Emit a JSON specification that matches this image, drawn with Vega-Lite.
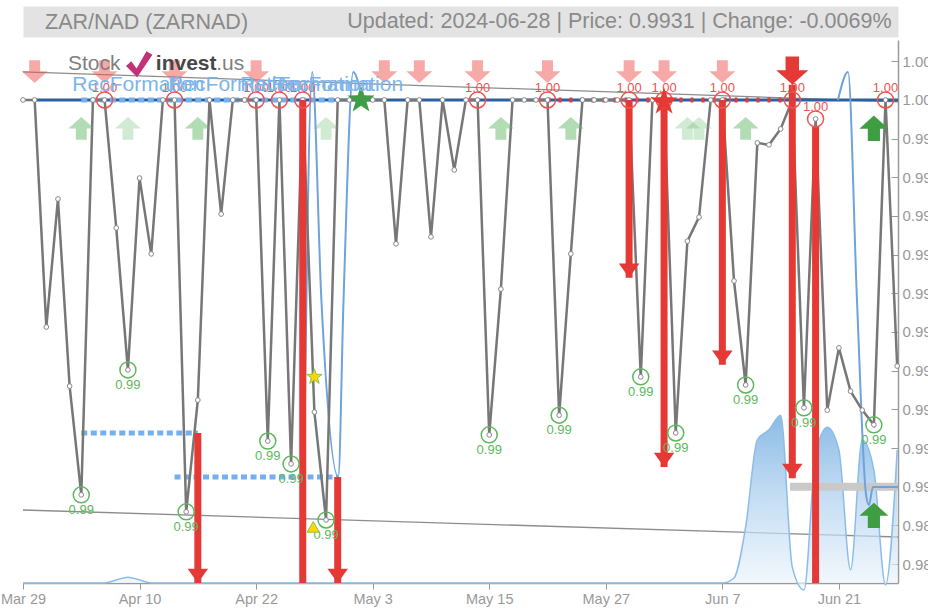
{
  "$schema": "https://vega.github.io/schema/vega-lite/v6.json",
  "background": "white",
  "autosize": {"type": "none"},
  "padding": {"left": 23, "top": 40, "right": 30, "bottom": 27},
  "width": 875,
  "height": 543,
  "config": {"font": "Liberation Sans", "view": {"stroke": null}, "axis": {"labelFont": "Liberation Sans", "titleFont": "Liberation Sans"}},
  "title": {"text": "ZAR/NAD (ZARNAD)", "anchor": "start", "frame": "group", "orient": "top", "baseline": "middle",
            "offset": -33.5, "dx": 22, "fontSize": 21.5, "fontWeight": "normal", "color": "#8a8a8a", "font": "Liberation Sans"},
  "datasets": {
    "price": [
      {"i":0,"v":1.0},{"i":1,"v":1.0},{"i":2,"v":0.99413},{"i":3,"v":0.99744},{"i":4,"v":0.99260},
      {"i":5,"v":0.98979},{"i":6,"v":1.0},{"i":7,"v":1.0},{"i":8,"v":0.99669},{"i":9,"v":0.99302},
      {"i":10,"v":0.99798},{"i":11,"v":0.99602},{"i":12,"v":1.0},{"i":13,"v":1.0},{"i":14,"v":0.98935},
      {"i":15,"v":0.99224},{"i":16,"v":1.0},{"i":17,"v":0.99705},{"i":18,"v":1.0},{"i":19,"v":1.0},
      {"i":20,"v":1.0},{"i":21,"v":0.99118},{"i":22,"v":1.0},{"i":23,"v":0.99059},{"i":24,"v":1.0},
      {"i":25,"v":0.99193},{"i":26,"v":0.98914},{"i":27,"v":1.0},{"i":28,"v":1.0},{"i":29,"v":1.0},
      {"i":30,"v":1.0},{"i":31,"v":1.0},{"i":32,"v":0.99628},{"i":33,"v":1.0},{"i":34,"v":1.0},
      {"i":35,"v":0.99646},{"i":36,"v":1.0},{"i":37,"v":0.99819},{"i":38,"v":1.0},{"i":39,"v":1.0},
      {"i":40,"v":0.99134},{"i":41,"v":0.99511},{"i":42,"v":1.0},{"i":43,"v":1.0},{"i":44,"v":1.0},
      {"i":45,"v":1.0},{"i":46,"v":0.99185},{"i":47,"v":0.99602},{"i":48,"v":1.0},{"i":49,"v":1.0},
      {"i":50,"v":1.0},{"i":51,"v":1.0},{"i":52,"v":1.0},{"i":53,"v":0.99284},{"i":54,"v":1.0},
      {"i":55,"v":1.0},{"i":56,"v":0.99139},{"i":57,"v":0.99635},{"i":58,"v":0.99697},{"i":59,"v":1.0},
      {"i":60,"v":1.0},{"i":61,"v":0.99532},{"i":62,"v":0.99263},{"i":63,"v":0.99889},{"i":64,"v":0.99884},
      {"i":65,"v":0.99925},{"i":66,"v":1.0},{"i":67,"v":0.99204},{"i":68,"v":0.99951},{"i":69,"v":0.99198},
      {"i":70,"v":0.99359},{"i":71,"v":0.99247},{"i":72,"v":0.99198},{"i":73,"v":0.99160},{"i":74,"v":1.0},
      {"i":75,"v":0.99312}
    ],
    "area": [
      {"i":0,"v":0.98751},{"i":7,"v":0.98751},{"i":8,"v":0.98759},{"i":9,"v":0.98766},{"i":10,"v":0.98759},
      {"i":11,"v":0.98751},{"i":60,"v":0.98751},{"i":61,"v":0.98764},{"i":62,"v":0.98896},{"i":63,"v":0.99121},
      {"i":64,"v":0.99147},{"i":65,"v":0.99185},{"i":66,"v":0.98792},{"i":67,"v":0.98733},{"i":68,"v":0.99082},
      {"i":69,"v":0.99154},{"i":70,"v":0.99095},{"i":71,"v":0.98785},{"i":72,"v":0.99121},{"i":73,"v":0.99043},
      {"i":74,"v":0.98746},{"i":75,"v":0.99095}
    ],
    "trend": [
      {"k":"up","i":0,"v":1.000724},{"k":"up","i":75.07,"v":0.999953},
      {"k":"low","i":0,"v":0.989397},{"k":"low","i":75.07,"v":0.988699}
    ],
    "level": [{"i":1,"v":1.0},{"i":75.07,"v":1.0}],
    "blueDash": [
      {"k":"a","i":5,"v":1.0},{"k":"a","i":27,"v":1.0},
      {"k":"b","i":5,"v":0.99139},{"k":"b","i":15,"v":0.99139},
      {"k":"c","i":13,"v":0.99025},{"k":"c","i":27,"v":0.99025}
    ],
    "redDash": [{"i":45,"v":1.0},{"i":66,"v":1.0}],
    "grayBar": [{"i":65.8,"v":0.99000},{"i":75.07,"v":0.99000}],
    "curves": [
      {"c":"a","i":24.1,"v":0.99025},{"c":"a","i":24.81,"v":1.000724},{"c":"a","i":25.6,"v":0.99483},
      {"c":"a","i":27.05,"v":0.99025},{"c":"a","i":27.5,"v":0.99483},{"c":"a","i":28.33,"v":1.000724},
      {"c":"a","i":29.1,"v":1.0},
      {"c":"b","i":69.92,"v":1.0},{"c":"b","i":70.78,"v":1.000724},{"c":"b","i":71.55,"v":0.99483},
      {"c":"b","i":72.33,"v":0.98979},{"c":"b","i":72.58,"v":0.98953},{"c":"b","i":72.92,"v":0.98999},
      {"c":"b","i":75.07,"v":0.98999}
    ],
    "bars": [
      {"i":15,"v":0.99139,"v2":0.98751},{"i":24,"v":1.0,"v2":0.98751},{"i":27,"v":0.99025,"v2":0.98751},
      {"i":52,"v":1.0,"v2":0.99540},{"i":55,"v":1.0,"v2":0.99051},{"i":60,"v":1.0,"v2":0.99315},
      {"i":66,"v":1.00039,"v2":0.99022},{"i":68,"v":0.99930,"v2":0.98751}
    ],
    "heads": [
      {"i":15,"v":0.98751},{"i":27,"v":0.98751},{"i":52,"v":0.99540},{"i":55,"v":0.99051},
      {"i":60,"v":0.99315},{"i":66,"v":0.99022}
    ],
    "highs": [
      {"i":7,"v":1.0},{"i":13,"v":1.0},{"i":20,"v":1.0},{"i":22,"v":1.0},{"i":24,"v":1.0},
      {"i":39,"v":1.0},{"i":45,"v":1.0},{"i":52,"v":1.0},{"i":55,"v":1.0},{"i":60,"v":1.0},
      {"i":66,"v":1.0},{"i":68,"v":0.99951},{"i":74,"v":1.0}
    ],
    "lows": [
      {"i":5,"v":0.98979},{"i":9,"v":0.99302},{"i":14,"v":0.98935},{"i":21,"v":0.99118},
      {"i":23,"v":0.99059},{"i":26,"v":0.98914},{"i":40,"v":0.99134},{"i":46,"v":0.99185},
      {"i":53,"v":0.99284},{"i":56,"v":0.99139},{"i":62,"v":0.99263},{"i":67,"v":0.99204},
      {"i":73,"v":0.99160}
    ],
    "sell": [
      {"i":1,"k":"n","v":1.000724},{"i":7,"k":"n","v":1.000724},{"i":13,"k":"n","v":1.000724},
      {"i":20,"k":"n","v":1.000724},{"i":31,"k":"n","v":1.000724},{"i":34,"k":"n","v":1.000724},
      {"i":39,"k":"n","v":1.000724},{"i":45,"k":"n","v":1.000724},{"i":52,"k":"n","v":1.000724},
      {"i":55,"k":"n","v":1.000724},{"i":60,"k":"n","v":1.000724},{"i":66,"k":"s","v":1.00075}
    ],
    "buy": [
      {"i":5,"k":"n","v":0.999276},{"i":9,"k":"w","v":0.999276},{"i":15,"k":"n","v":0.999276},
      {"i":26,"k":"w","v":0.999276},{"i":41,"k":"n","v":0.999276},{"i":47,"k":"n","v":0.999276},
      {"i":57,"k":"w","v":0.999276},{"i":58,"k":"w","v":0.999276},{"i":62,"k":"n","v":0.999276},
      {"i":73,"k":"s","v":0.999276},{"i":73,"k":"s","v":0.989268}
    ],
    "stars": [{"i":29,"v":1.0,"k":"g"},{"i":55,"v":0.99995,"k":"r"}],
    "yellow": [{"i":25,"v":0.99284,"k":"star"},{"i":24.9,"v":0.98896,"k":"tri"}],
    "rec": [
      {"i":9.89,"v":1.000375,"label":"RecFormation"},{"i":18.12,"v":1.000375,"label":"RecFormation"},
      {"i":24.3,"v":1.000375,"label":"RecFormation"},{"i":26.95,"v":1.000375,"label":"RecFormation"}
    ],
    "logo": [
      {"k":"a","i":6.11,"v":1.000931,"label":"Stock"},
      {"k":"b","i":14.0,"v":1.000931,"label":"invest"},
      {"k":"c","i":17.78,"v":1.000931,"label":".us"}
    ],
    "logomark": [{"i":9.97,"v":1.000931}]
  },
  "resolve": {"axis": {"x": "independent"}},
  "encoding": {
    "y": {"field": "v", "type": "quantitative",
          "scale": {"domain": [0.98751, 1.00155], "nice": false, "zero": false},
          "axis": {"orient": "right", "values": [0.988,0.989,0.990,0.991,0.992,0.993,0.994,0.995,0.996,0.997,0.998,0.999,1.0,1.001],
                   "format": ".3f", "grid": false, "title": null, "labelColor": "#999", "labelFontSize": 15,
                   "tickColor": "#999", "tickSize": -7, "labelPadding": 11, "domainColor": "#9a9a9a", "domainWidth": 1.5}}
  },
  "layer": [
    {
      "data": {"name": "trend"},
      "mark": {"type": "line", "color": "#8c8c8c", "strokeWidth": 1.3},
      "encoding": {
        "x": {"field": "i", "type": "quantitative",
              "scale": {"domain": [0, 75.07], "nice": false, "zero": false},
              "axis": {"orient": "top", "values": [0], "grid": false, "ticks": false, "labels": false,
                       "domain": true, "domainColor": "#e3e3e3", "domainWidth": 31, "domainCap": "butt", "offset": 18.5,
                       "title": "Updated: 2024-06-28 | Price: 0.9931 | Change: -0.0069%",
                       "titleX": 868, "titleY": 0, "titleAlign": "right", "titleBaseline": "middle", "titleAngle": 0,
                       "titleFontSize": 21.5, "titleFontWeight": "normal", "titleColor": "#8a8a8a"}},
        "detail": {"field": "k"}
      }
    },
    {
      "encoding": {
        "x": {"field": "i", "type": "quantitative",
              "scale": {"domain": [0, 75.07], "nice": false, "zero": false},
              "axis": {"values": [0,10,20,30,40,50,60,70], "grid": false, "title": null,
                       "labelExpr": "['Mar 29','Apr 10','Apr 22','May 3','May 15','May 27','Jun 7','Jun 21'][round(datum.value/10)]",
                       "labelColor": "#999", "labelFontSize": 14.5, "labelFlush": false,
                       "tickColor": "#999", "tickSize": 6, "domainColor": "#9a9a9a", "domainWidth": 1.5, "labelPadding": 3}}
      },
      "layer": [
        {"data": {"name": "area"},
         "mark": {"type": "area", "interpolate": "monotone",
                  "fill": {"gradient": "linear", "x1": 0, "y1": 1, "x2": 0, "y2": 0,
                           "stops": [{"offset": 0, "color": "#f2f8fd"}, {"offset": 0.55, "color": "#a9cdee"}, {"offset": 1, "color": "#5a9edb"}]},
                  "line": {"color": "#8cbde9", "strokeWidth": 1.5}},
         "encoding": {"y2": {"datum": 0.98751}}},
        {"data": {"name": "level"},
         "mark": {"type": "line", "color": "#2e5f9e", "strokeWidth": 3},
         "encoding": {}},
        {"data": {"name": "blueDash"},
         "mark": {"type": "line", "color": "#74aff0", "strokeWidth": 5, "strokeDash": [6, 3.5]},
         "encoding": {"detail": {"field": "k"}}},
        {"data": {"name": "redDash"},
         "mark": {"type": "line", "color": "#e53935", "strokeWidth": 5, "strokeDash": [3, 8]},
         "encoding": {}},
        {"data": {"name": "grayBar"},
         "mark": {"type": "line", "color": "#c9c9c9", "strokeWidth": 8},
         "encoding": {}},
        {"data": {"name": "curves"},
         "mark": {"type": "line", "color": "#6fa3da", "strokeWidth": 2, "interpolate": "monotone"},
         "encoding": {"detail": {"field": "c"}}},
        {"data": {"name": "price"},
         "mark": {"type": "line", "color": "#777777", "strokeWidth": 2.5},
         "encoding": {}},
        {"data": {"name": "price"},
         "mark": {"type": "point", "filled": true, "fill": "white", "stroke": "#888888", "strokeWidth": 1, "size": 22, "opacity": 1},
         "encoding": {}},
        {"data": {"name": "bars"},
         "mark": {"type": "rule", "color": "#e53935", "strokeWidth": 7},
         "encoding": {"y2": {"field": "v2"}}},
        {"data": {"name": "heads"},
         "mark": {"type": "point", "shape": "M-1,-1.4L1,-1.4L0,0Z", "filled": true, "fill": "#e53935", "opacity": 1, "size": 420, "strokeWidth": 0},
         "encoding": {}},
        {"data": {"name": "highs"},
         "mark": {"type": "point", "shape": "circle", "filled": false, "stroke": "#ef5350", "strokeWidth": 1.5, "size": 256, "opacity": 1},
         "encoding": {}},
        {"data": {"name": "highs"},
         "mark": {"type": "text", "dy": -12, "fontSize": 13, "color": "#ef5350"},
         "encoding": {"text": {"field": "v", "format": ".2f"}}},
        {"data": {"name": "lows"},
         "mark": {"type": "point", "shape": "circle", "filled": false, "stroke": "#5cb85c", "strokeWidth": 1.5, "size": 256, "opacity": 1},
         "encoding": {}},
        {"data": {"name": "lows"},
         "mark": {"type": "text", "dy": 15, "fontSize": 13, "color": "#5cb85c"},
         "encoding": {"text": {"field": "v", "format": ".2f"}}},
        {"data": {"name": "sell"}, "transform": [{"filter": "datum.k === 'n'"}],
         "mark": {"type": "point", "shape": "M-0.42,-0.9L0.42,-0.9L0.42,-0.05L1,-0.05L0,0.85L-1,-0.05L-0.42,-0.05Z",
                  "filled": true, "fill": "#ef5350", "opacity": 0.5, "size": 676, "strokeWidth": 0},
         "encoding": {}},
        {"data": {"name": "sell"}, "transform": [{"filter": "datum.k === 's'"}],
         "mark": {"type": "point", "shape": "M-0.42,-0.9L0.42,-0.9L0.42,-0.05L1,-0.05L0,0.85L-1,-0.05L-0.42,-0.05Z",
                  "filled": true, "fill": "#e53935", "opacity": 1, "size": 1024, "strokeWidth": 0},
         "encoding": {}},
        {"data": {"name": "buy"}, "transform": [{"filter": "datum.k === 'n'"}],
         "mark": {"type": "point", "shape": "M-0.42,0.9L0.42,0.9L0.42,0.05L1,0.05L0,-0.85L-1,0.05L-0.42,0.05Z",
                  "filled": true, "fill": "#66bb6a", "opacity": 0.5, "size": 676, "strokeWidth": 0},
         "encoding": {}},
        {"data": {"name": "buy"}, "transform": [{"filter": "datum.k === 'w'"}],
         "mark": {"type": "point", "shape": "M-0.42,0.9L0.42,0.9L0.42,0.05L1,0.05L0,-0.85L-1,0.05L-0.42,0.05Z",
                  "filled": true, "fill": "#66bb6a", "opacity": 0.3, "size": 676, "strokeWidth": 0},
         "encoding": {}},
        {"data": {"name": "buy"}, "transform": [{"filter": "datum.k === 's'"}],
         "mark": {"type": "point", "shape": "M-0.42,0.9L0.42,0.9L0.42,0.05L1,0.05L0,-0.85L-1,0.05L-0.42,0.05Z",
                  "filled": true, "fill": "#3f9e42", "opacity": 1, "size": 841, "strokeWidth": 0},
         "encoding": {}},
        {"data": {"name": "stars"}, "transform": [{"filter": "datum.k === 'g'"}],
         "mark": {"type": "point", "shape": "M0,-1L0.235,-0.324L0.951,-0.309L0.38,0.124L0.588,0.809L0,0.4L-0.588,0.809L-0.38,0.124L-0.951,-0.309L-0.235,-0.324Z",
                  "filled": true, "fill": "#3f9e45", "opacity": 1, "size": 820, "strokeWidth": 0},
         "encoding": {}},
        {"data": {"name": "stars"}, "transform": [{"filter": "datum.k === 'r'"}],
         "mark": {"type": "point", "shape": "M0,-1L0.235,-0.324L0.951,-0.309L0.38,0.124L0.588,0.809L0,0.4L-0.588,0.809L-0.38,0.124L-0.951,-0.309L-0.235,-0.324Z",
                  "filled": true, "fill": "#e53935", "opacity": 1, "size": 820, "strokeWidth": 0},
         "encoding": {}},
        {"data": {"name": "yellow"}, "transform": [{"filter": "datum.k === 'star'"}],
         "mark": {"type": "point", "shape": "M0,-1L0.235,-0.324L0.951,-0.309L0.38,0.124L0.588,0.809L0,0.4L-0.588,0.809L-0.38,0.124L-0.951,-0.309L-0.235,-0.324Z",
                  "filled": true, "fill": "#ffd600", "stroke": "#8bc34a", "strokeWidth": 1, "opacity": 1, "size": 260},
         "encoding": {}},
        {"data": {"name": "yellow"}, "transform": [{"filter": "datum.k === 'tri'"}],
         "mark": {"type": "point", "shape": "triangle-up", "filled": true, "fill": "#ffd600", "stroke": "#8bc34a", "strokeWidth": 1, "opacity": 1, "size": 150},
         "encoding": {}},
        {"data": {"name": "rec"},
         "mark": {"type": "text", "fontSize": 21, "color": "#7db4ec"},
         "encoding": {"text": {"field": "label", "type": "nominal"}}},
        {"data": {"name": "logo"}, "transform": [{"filter": "datum.k !== 'b'"}],
         "mark": {"type": "text", "fontSize": 21, "color": "#7f7f7f"},
         "encoding": {"text": {"field": "label", "type": "nominal"}}},
        {"data": {"name": "logo"}, "transform": [{"filter": "datum.k === 'b'"}],
         "mark": {"type": "text", "fontSize": 21, "fontWeight": "bold", "color": "#474747"},
         "encoding": {"text": {"field": "label", "type": "nominal"}}},
        {"data": {"name": "logomark"},
         "mark": {"type": "point", "shape": "M-1,0.15L-0.6,-0.2L-0.2,0.35L0.55,-0.95L1,-0.7L-0.15,1Z", "filled": true,
                  "fill": "#c2327a", "opacity": 1, "size": 700, "strokeWidth": 0},
         "encoding": {}}
      ]
    }
  ]
}
